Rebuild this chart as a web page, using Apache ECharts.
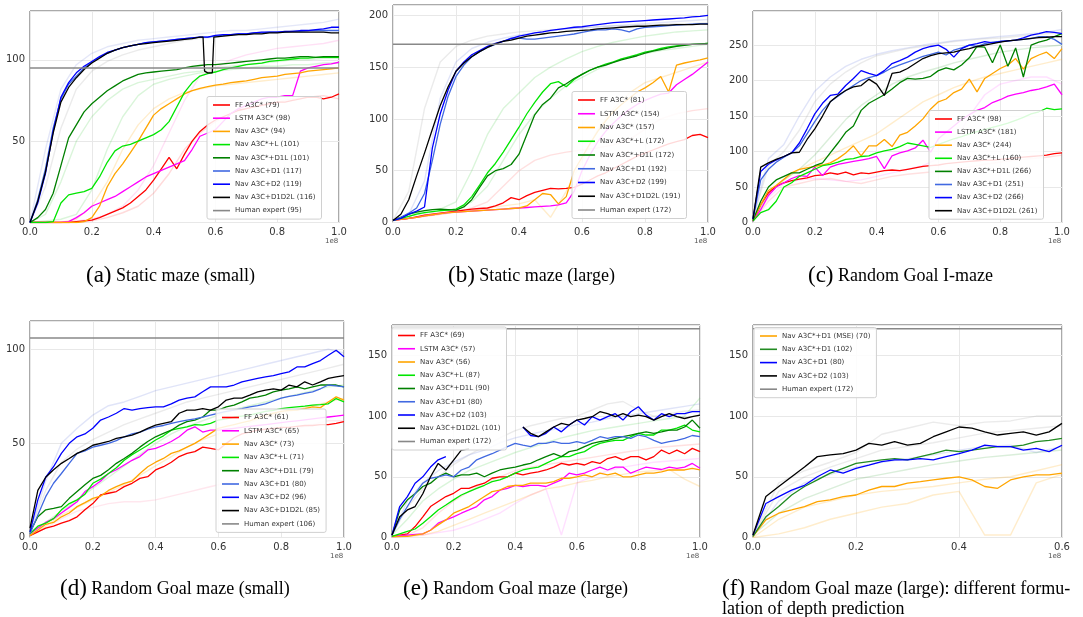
<!DOCTYPE html>
<html>
<head>
<meta charset="utf-8">
<title>Learning curves</title>
<script src="https://cdn.jsdelivr.net/npm/echarts@6/dist/echarts.min.js"></script>
<style>
  html, body { margin: 0; padding: 0; background: #fff; }
  .panel { position: absolute; left: 0; top: 0; width: 1083px; height: 617px; }
</style>
</head>
<body>
<div id="pa" class="panel"></div>
<div id="pb" class="panel"></div>
<div id="pc" class="panel"></div>
<div id="pd" class="panel"></div>
<div id="pe" class="panel"></div>
<div id="pf" class="panel"></div>
<script>
// x positions (steps, in units of 1e8)
const xs = [0,0.025,0.05,0.075,0.1,0.125,0.15,0.175,0.2,0.225,0.25,0.275,0.3,0.325,0.35,0.375,0.4,0.425,0.45,0.475,0.5,0.525,0.55,0.575,0.6,0.625,0.65,0.675,0.7,0.725,0.75,0.775,0.8,0.825,0.85,0.875,0.9,0.925,0.95,0.975,1];
const xsF = [0,0.025,0.05,0.075,0.1,0.125,0.15,0.175,0.2,0.225,0.25,0.275,0.3,0.325,0.35,0.375,0.4,0.425,0.45,0.475,0.5,0.525,0.55,0.575,0.6];
const xsBlackA = [0,0.025,0.05,0.075,0.1,0.125,0.15,0.175,0.2,0.225,0.25,0.275,0.3,0.325,0.35,0.375,0.4,0.425,0.45,0.475,0.5,0.525,0.55,0.56,0.565,0.575,0.59,0.595,0.6,0.625,0.65,0.675,0.7,0.725,0.75,0.775,0.8,0.825,0.85,0.875,0.9,0.925,0.95,0.975,1];
const xsRun = [0,0.05,0.1,0.15,0.2,0.25,0.3,0.35,0.4,0.45,0.5,0.55,0.6,0.65,0.7,0.75,0.8,0.85,0.9,0.95,1];
const xsRunF = [0,0.05,0.1,0.15,0.2,0.25,0.3,0.35,0.4,0.45,0.5,0.55,0.6];

// (a) Static maze (small)
const aLabels = ['FF A3C* (79)','LSTM A3C* (98)','Nav A3C* (94)','Nav A3C*+L (101)','Nav A3C*+D1L (101)','Nav A3C+D1 (117)','Nav A3C+D2 (119)','Nav A3C+D1D2L (116)'];
const aFF = [0,0,0,0,0,0,0.5,1,1.5,3,5,7,9,12,16,20,26,33,40,33,42,50,56,60,63,65,67,69,70,71,72,73,74,74,75,76,77,77,76,77,79];
const aLSTM = [0,0,0,0,0,0.5,3,6,10,12,14,16,19,22,25,28,30,32,34,36,38,45,53,55,57,62,67,70,72,74,76,77,77,78,78,93,95,96,97,97.5,98.5];
const aNav = [0,0,0,0,0,0,0,0.5,3,10,22,30,36,43,50,58,66,70,73,76,79,81,82.5,83.5,84.5,85,86,86.5,87,88,89,89.5,90,91,91.5,92,93,93.5,94,94.5,95];
const aNavL = [0,0,0,0.5,12,17,18,19,21,28,37,44,47,48,50,52,54,57,62,71,80,86,90,91.5,92.5,94,95,96,97,97.5,98,99,99.5,100,100.5,101,101,101.5,101.5,101.5,101.5];
const aNavD1L = [0,3,8,18,35,52,60,68,73,77,81,84,87,89,91,92,92.5,93,93.5,94,95,96,96.5,97,97,97.5,98,98.5,99,99.5,100,100.5,101,101,101.5,102,102,101.5,102,102,102];
const aD1 = [0,14,33,58,76,85,90,95,98.5,101.5,104,106,107.5,108.5,109.5,110.5,111,111.5,112,112.5,113,113.5,114,114,114.5,115,115.5,116,116,116.5,116.5,117,117,117,117.5,117.5,118,118,118,118,118];
const aD2 = [0,12,30,56,77,86,92,96,99,102,104.5,106,107.5,108.5,109.5,110.5,111,111.5,112,112.5,113,113.5,114,114,115,115.5,115.5,116,116,116.5,117,117,117,117.5,117.5,118,118,118.5,119,120,120];
const aD1D2L = [0,13,31,55,74,83,89,94,98,101,104,106,107.5,108.5,109.5,110,110.5,111,111.5,112,112.5,113,114,114,93,92,92,114,114,114.5,115,115.5,115.5,116,116,116.5,116.5,117,117,117,117,117,117,116.5,116.5];
const aHuman = 95;
const aRuns = [
  [0,45,82,97,104,108,110,112,113,114,115,116,117,118,118,119,120,121,122,123,125],
  [0,22,58,82,93,99,103,106,108,110,112,113,114,115,116,117,117,118,118,119,120],
  [0,5,25,50,65,75,82,86,88,90,92,93,95,96,97,98,99,100,100,101,101],
  [0,1,2,5,20,45,65,78,85,88,90,92,93,94,95,96,96,97,97,98,98],
  [0,0,0,1,2,5,10,20,35,55,75,90,95,100,103,105,107,108,109,110,112],
  [0,0,0,2,10,25,45,60,70,76,80,82,84,85,86,87,88,89,90,91,92],
  [0,0,0,0,1,3,6,10,18,30,45,55,62,67,70,72,74,76,77,78,76]
];
const aRunColors = ['#7788dd','#999999','#44cc44','#44cc44','#ff66cc','#ffa500','#ff4444'];

// (b) Static maze (large)
const bLabels = ['FF A3C* (81)','LSTM A3C* (154)','Nav A3C* (157)','Nav A3C*+L (172)','Nav A3C*+D1L (172)','Nav A3C+D1 (192)','Nav A3C+D2 (199)','Nav A3C+D1D2L (191)'];
const bFF = [2,3,4,5.5,7,8,9,10,11,12,13,13.5,14,16,19,24,22,26,29,31,33,32.5,33,34,37,41,45,48,52,56,60,64,67,70,73,76,78,80,84,85,82];
const bLSTM = [2,3,4,5,6.5,7.5,8.5,9.5,10,10.5,11,11.5,12,12.5,13,13.5,14,14.5,15,15.5,16,17,19,30,50,65,78,88,96,103,109,114,118,121,124,125,133,138,143,149,155];
const bNav = [2,3,4,5,6.5,7.5,8.5,9.5,10,10.5,11,11.5,12,12.5,13,13.5,14,16,22,28,27,18,25,50,63,76,88,98,107,114,120,126,130,135,141,126,152,154,155.5,157,159];
const bNavL = [2,4,6,8,9.5,10.5,11.5,12,13,17,25,36,48,57,68,80,92,105,116,126,134,136,131,138,143,147,150,153,155,158,160,162,164.5,166,168,169.5,170.5,171.5,172,172.5,173];
const bNavD1L = [2,5,8,10,11.5,12.5,13,12.5,12,15,22,34,45,50,52,56,66,85,104,114,120,130,134,139,143,147,150,152,154.5,157,159,161,163.5,165.5,167,168.5,170,171,172,172.5,173];
const bD1 = [2,5,9,14,28,60,95,122,141,152,160,165,169,172,175,178,178,177,177,178,179,180,181,182,183.5,185,186,186,187,186,184,187,188.5,189,189.5,190,190.5,191,191.5,192,192];
const bD2 = [2,4,8,11,15,72,105,128,146,155,162,166,170,173,175,177.5,180,181.5,183,184,185.5,186.5,187.5,188.5,189,190,191,192,193,193.5,194,194.5,195,195.5,196,196.5,197,197.5,198.5,199,200];
const bD1D2L = [2,8,22,45,67,90,113,131,146,154,160,165,169,172.5,175,176,178,180,181,182,183,183.5,184.5,185,185.5,186,187,187.5,188,188.5,189,189.5,189.5,190,190.5,190.5,191,191,191,191.5,191.5];
const bHuman = 172;
const bRuns = [
  [2,30,110,155,170,176,180,182,184,185,186,187,188,189,190,190,191,191,192,192,193],
  [2,8,40,120,155,168,174,178,181,183,185,187,188,189,190,191,192,193,194,195,196],
  [2,8,11,13,20,50,85,110,125,140,150,158,165,170,174,177,180,182,184,185,186],
  [2,6,9,11,13,20,35,60,85,105,120,132,140,148,155,160,163,166,168,170,172],
  [2,4,6,8,10,14,20,35,50,60,65,68,70,72,75,80,90,100,105,108,110],
  [2,4,6,8,10,12,14,16,18,22,5,30,60,90,110,125,135,140,145,150,155]
];
const bRunColors = ['#999999','#6677dd','#44cc44','#44cc44','#ff6666','#ffa500'];

// (c) Random Goal I-maze
const cLabels = ['FF A3C* (98)','LSTM A3C* (181)','Nav A3C* (244)','Nav A3C*+L (160)','Nav A3C*+D1L (266)','Nav A3C+D1 (251)','Nav A3C+D2 (266)','Nav A3C+D1D2L (261)'];
const cFF = [2,25,42,51,56,59,61,63,66,67,70,68,71,67,70,69,71,73,74,73,75,77,79,80,81,83,84,85,86,87,88,88,89,90,91,92,93,94,95,97,98];
const cLSTM = [2,18,38,50,56,62,66,65,78,66,78,82,84,86,88,90,93,76,94,98,101,105,116,99,118,127,136,145,152,158,162,169,173,178,181,183,186,188,191,195,180];
const cNav = [3,25,45,52,61,70,75,77,79,81,84,90,98,108,94,108,108,117,107,123,127,136,146,160,170,174,183,188,202,184,203,210,217,222,231,216,231,236,240,231,245];
const cNavL = [2,14,18,30,50,56,65,70,75,80,82,85,89,90,93,94,98,101,103,107,112,110,108,106,110,114,118,121,125,128,131,134,137,140,144,148,153,156,161,159,160];
const cNavD1L = [3,30,50,60,65,70,70,75,80,84,98,112,127,136,158,168,174,180,188,197,203,202,203,206,214,218,215,222,232,248,247,225,250,220,246,205,250,254,257,262,266];
const cD1 = [5,60,75,85,92,98,108,125,142,158,170,178,186,193,200,204,207,212,218,222,226,230,234,237,240,236,243,246,250,248,252,254,255,256,257,258,259,262,262,258,251];
const cD2 = [5,72,82,88,93,98,112,132,153,168,179,181,193,203,214,210,207,214,224,228,233,240,245,248,250,244,233,245,250,252,255,253,255,256,257,260,264,266,269,268,266];
const cD1D2L = [5,78,84,89,93,98,99,117,132,150,170,179,186,191,193,202,195,179,210,212,217,224,231,235,238,239,240,243,245,248,250,252,254,256,257,258,259.5,260.5,261,262,262];
const cRuns = [
  [5,90,110,150,185,205,220,230,237,242,246,250,253,256,258,260,262,264,266,268,272],
  [5,80,100,130,170,195,212,225,235,240,245,248,252,255,257,259,260,262,264,266,268],
  [3,40,60,75,95,120,145,165,180,195,205,212,218,225,230,235,240,243,246,248,250],
  [3,40,60,75,85,95,105,115,125,140,155,170,180,190,198,205,210,215,220,225,230],
  [2,35,55,60,62,60,58,60,65,70,75,80,90,110,150,180,195,200,205,205,195],
  [2,30,50,55,60,62,58,55,60,65,68,70,72,75,78,82,85,88,90,92,95]
];
const cRunColors = ['#6677dd','#999999','#44aa44','#ffa500','#ff66ff','#ff6666'];

// (d) Random Goal maze (small)
const dLabels = ['FF A3C* (61)','LSTM A3C* (65)','Nav A3C* (73)','Nav A3C*+L (71)','Nav A3C*+D1L (79)','Nav A3C+D1 (80)','Nav A3C+D2 (96)','Nav A3C+D1D2L (85)'];
const dFF = [1,3,5,6,7.6,9,11,14.7,18,22.6,23.5,24.4,27,28.8,31.4,32.3,35.9,37.6,40,43,44.7,45.6,48,47.3,46.5,50,53,55,56,57,57.5,58,58.5,58.5,59,59.5,59.5,60,60,60.6,61.5];
const dLSTM = [2,5,8,10,13,16,19,24.4,27,30,34,36,38.5,41,43,46.5,47.3,49,51,53.5,57,58.8,56,57,57,57.5,58,58.5,59,59.5,60,60.5,61,61.5,62,62.5,63,63.5,64,64.5,65];
const dNav = [1,4,7,8,11,13,16.4,18.5,20.8,22,25,27,28.8,30,34,37.6,40,42,44.7,46,48,50,52.6,55.3,58,59,60,61,62,63.5,65,66,67,67.5,67.7,68.5,69.4,69,72,74.7,73];
const dNavL = [2,6,7.6,10,14.7,18,20,23,28.8,31,34,37,41,44,46.5,49,51.8,54,57,58,58.8,60,59.7,60.6,62.4,63,64,64.5,65,66,67,67.5,68.5,69,69.4,69.8,70.3,70.6,71,73.8,72];
const dNavD1L = [3,11,14.7,15.5,16.4,20.8,24.4,28,31.4,33,36,39.4,42,44.7,48,51,53.5,55.3,57,59.7,61.5,62.4,64,67.7,67.7,69.4,70.3,72,74,74.7,75.6,77.4,78.3,79,80,79,80,81,81,81,80];
const dD1 = [2,12,21.7,28.8,34,39.4,44.7,46,48,49,50,51.5,53.5,55,56,57.5,58.8,59.5,60.6,61.5,62.4,63,64,65,66,67,67.7,68.5,69.4,70,71,72.5,74,75,75.6,76.5,77.4,79,81,80.5,80];
const dD2 = [3,20,32,37.6,44.7,50,53.5,55,58,62.4,64,66,68.5,67.7,68.5,69,69.4,69.4,71,73,74,74.7,77.4,80,80,80,81,82.7,83.6,84.5,85.3,86,87,88,90.6,90.6,92.4,94,96.8,99.5,96];
const dD1D2L = [5,25,32,36,39.4,42,44.7,46.5,49,50,51,52.6,53.5,54.4,56,58,59.7,60.6,61.5,66,67.7,67.7,68.5,67.7,69.4,73,74,74,75.6,77.4,78.3,79,78.3,81,80,82.7,81,82.7,84.5,85.3,86];
const dHuman = 106;
const dRuns = [
  [3,30,50,58,65,70,72,75,78,80,82,84,86,88,90,92,94,96,98,100,98],
  [4,25,40,47,52,56,60,63,66,69,72,74,76,78,80,82,84,86,88,90,92],
  [1,5,10,14,16,18,19,19,20,22,24,26,28,30,40,50,55,58,60,62,62],
  [2,8,14,20,26,32,38,44,50,55,59,62,65,68,70,72,74,76,78,80,81],
  [1,6,12,16,20,24,28,33,38,43,48,52,55,58,61,64,66,68,70,72,74]
];
const dRunColors = ['#6677dd','#999999','#ff88aa','#44cc44','#ffa500'];

// (e) Random Goal maze (large)
const eLabels = ['FF A3C* (69)','LSTM A3C* (57)','Nav A3C* (56)','Nav A3C*+L (87)','Nav A3C*+D1L (90)','Nav A3C+D1 (80)','Nav A3C+D2 (103)','Nav A3C+D1D2L (101)'];
const eFF = [1,2,3,9,17,25.5,29.6,33.7,36.4,40.5,40.5,43,44.7,48.8,50,50,53,51.5,53,54,55.6,58,61,59.7,61,59.7,62.5,61,65,66.6,64,66.6,66.6,64,66.6,72,69,72,69,73.4,70.7];
const eLSTM = [1,1.5,2,2.5,3,6,11.8,14.5,17,20,22.7,25.5,31,33.7,39,40.5,43,42,43,43,42,44.7,47.4,53,51.5,53,55.6,58,55.6,58,58,53,55.6,58,57,56,58,57,58,61,57];
const eNav = [1,1,1,2,3,6,10.4,14.5,20,22.7,25.5,29.6,33.7,37.8,39,42,43,43,44.7,44.7,44.7,46,48.8,48.8,50,51.5,50,53,51.5,53,50,50,51.5,53,53,54,55.6,55.6,55.6,57,55.6];
const eNavL = [1,3,5,7,11.8,17,22.7,26.8,31,35,37.8,40.5,43,46,47.4,50,53,55.6,57,58,61,64,66.6,66.6,69,70.7,74.8,77.5,79,80,80,83,85.8,84.4,84.4,88.5,88.5,90,92.6,88.5,87];
const eNavD1L = [2,22.7,31,36,42,44.7,50,53,50,51.5,51.5,53,50,53,55.6,57,58,59.7,61,64,66.6,69,66.6,70.7,72,74.8,77.5,79,80,81.6,83,84.4,85.8,87,85.8,87,88.5,88.5,91,96.7,90];
const eD1 = [2,15,25.5,36,44.7,48.8,50,51.5,50,55.6,58,64,66.6,69,72,74.8,77.5,76,74.8,77.5,77.5,79,77.5,77.5,79,77.5,80,83,81.6,83,83,81.6,84.4,83,80,77.5,79,80,81.6,84,83];
const eD2 = [2,25.5,33.7,44.7,50,58,64,66.6,null,null,null,null,null,null,null,null,null,91,84,83,85.8,91,87,92.6,96.7,92.6,99.5,96.7,99.5,102,96.7,103.6,107.7,100.8,96.7,102,99.5,102,102,103.6,103.6];
const eD1D2L = [2,17,22.7,25.5,36,50,61,55.6,63.8,72,73,null,null,null,null,null,null,91,85.8,83,87,91,94,92.6,96.7,98,99.5,103.6,102,99.5,102,99.5,100.8,99.5,96.7,99.5,102,99.5,98,99.5,100.8];
const eHuman = 172;
const eRuns = [
  [2,25,40,50,60,68,75,82,88,92,95,98,100,105,110,112,105,100,102,104,105],
  [2,30,45,55,62,68,72,78,82,85,88,90,93,95,98,100,102,104,106,108,110],
  [2,15,30,40,48,55,60,65,70,74,78,82,85,88,90,92,94,96,98,100,115],
  [0,1,2,4,6,10,15,20,28,35,40,2,45,50,55,58,60,62,63,64,65],
  [0,1,2,5,10,15,20,25,30,35,40,42,45,47,50,52,54,55,56,48,42],
  [0,2,8,20,30,38,45,50,55,58,60,62,64,66,68,70,72,74,75,76,77]
];
const eRunColors = ['#999999','#6677dd','#44cc44','#ff66ff','#ffa500','#ff6666'];

// (f) Random Goal maze (large): depth prediction variants
const fLabels = ['Nav A3C*+D1 (MSE) (70)','Nav A3C*+D1 (102)','Nav A3C+D1 (80)','Nav A3C+D2 (103)'];
const fMSE = [1,14.5,20,22.7,25.5,29.6,31,33.7,35,39,42,42,44.7,46,47.4,48.8,50,47.4,42,40.5,47.4,50,51.5,51.5,53];
const fD1Star = [1,17,25.5,35,42,47.4,53,57,61,62.5,64,65,64,66.6,69,72,70.7,72,73.4,74.8,74.8,76,79,80,81.6];
const fD1 = [2,28,33.7,39,43,50,55.6,53,57,59.7,62.5,64,64,65,64,66.6,69,72,76,74.8,74.8,72,73.4,70.7,76];
const fD2 = [2,33.7,42,50,58,66.6,68,69,72,77.5,76,79,76,77.5,83,87,91,90,87,84.4,85.8,87,84.4,87,94];
const fHuman = 172;
const fRuns = [
  [2,45,55,62,70,85,90,95,92,95,96,100,100],
  [2,38,50,58,65,72,75,78,82,86,88,90,92],
  [2,30,45,52,58,62,65,68,72,75,76,70,75],
  [0,3,8,15,20,25,28,35,38,2,2,45,52],
  [0,15,25,30,35,38,40,42,45,48,50,55,60],
  [2,20,32,40,48,52,56,60,63,66,68,70,72]
];
const fRunColors = ['#999999','#999999','#6677dd','#ffa500','#ffa500','#44aa44'];

const COLORS = ['#ff0000','#ff00ff','#ffa500','#00e600','#008000','#4169e1','#0000ff','#000000'];
const HUMAN_COLOR = '#888888';

function pairs(x, y) {
  return x.map((v, i) => [v, y[i]]);
}

function drawPanel(id, cfg) {
  const chart = echarts.init(document.getElementById(id));
  const series = [];
  cfg.runs.forEach((r, i) => {
    series.push({
      name: '_run' + i, type: 'line', data: pairs(cfg.runX, r),
      symbol: 'none', silent: true, z: 1,
      lineStyle: { color: cfg.runColors[i], width: 1.4, opacity: 0.2 }
    });
  });
  cfg.lines.forEach((l) => {
    series.push({
      name: l.name, type: 'line', data: pairs(l.x, l.y),
      symbol: 'none', z: 2, connectNulls: false,
      lineStyle: { color: l.color, width: 1.3 }, itemStyle: { color: l.color }
    });
  });
  const names = cfg.lines.map(l => l.name);
  if (cfg.human != null) {
    const hn = 'Human expert (' + cfg.human + ')';
    names.push(hn);
    series.push({
      name: hn, type: 'line', data: [[0, cfg.human], [cfg.xMax, cfg.human]],
      symbol: 'none', z: 3,
      lineStyle: { color: HUMAN_COLOR, width: 1.5 }, itemStyle: { color: HUMAN_COLOR }
    });
  }
  const g = cfg.grid;
  chart.setOption({
    animation: false,
    title: {
      left: cfg.caption.left, top: cfg.caption.top, padding: 0,
      text: cfg.caption.text,
      textStyle: {
        fontFamily: 'Liberation Serif', fontSize: 18, fontWeight: 'normal', color: '#000', lineHeight: 20,
        rich: {
          p: { fontFamily: 'Liberation Serif', fontSize: 23, color: '#000', lineHeight: 20 },
          t: { fontFamily: 'Liberation Serif', fontSize: 18, color: '#000', lineHeight: 20 }
        }
      }
    },
    grid: { left: g.left, top: g.top, width: g.width, height: g.height, show: true, borderColor: '#555', borderWidth: 1 },
    xAxis: {
      type: 'value', min: 0, max: cfg.xMax, interval: 0.2,
      axisLine: { show: false }, axisTick: { show: false },
      splitLine: { lineStyle: { color: '#e8e8e8' } },
      axisLabel: { formatter: v => v.toFixed(1), color: '#333', fontSize: 10, fontFamily: 'DejaVu Sans', margin: 5 }
    },
    yAxis: {
      type: 'value', min: 0, max: cfg.yMax, interval: 50,
      axisLine: { show: false }, axisTick: { show: false },
      splitLine: { lineStyle: { color: '#e8e8e8' } },
      axisLabel: { formatter: v => (v % 50 === 0 ? String(v) : ''), color: '#333', fontSize: 10, fontFamily: 'DejaVu Sans', margin: 5 }
    },
    legend: {
      orient: 'vertical', left: cfg.legend.left, top: cfg.legend.top,
      icon: 'rect', itemWidth: 17, itemHeight: 1.6, itemGap: cfg.legend.gap,
      padding: [4, 6, 4, 6],
      backgroundColor: 'rgba(255,255,255,0.85)', borderColor: '#d0d0d0', borderWidth: 1, borderRadius: 2,
      data: names,
      textStyle: { fontSize: 7, color: '#333', fontFamily: 'DejaVu Sans', lineHeight: 9, height: 9 }
    },
    graphic: [{
      type: 'text', x: g.left + g.width - 14, y: g.top + g.height + 15,
      style: { text: '1e8', fontSize: 7, fontFamily: 'DejaVu Sans', fill: '#555' }
    }],
    series: series
  });
}

function mainLines(labels, arrays, xArrays) {
  return labels.map((name, i) => ({ name: name, x: xArrays[i] || xs, y: arrays[i], color: COLORS[i] }));
}

drawPanel('pa', {
  grid: { left: 30, top: 11, width: 309, height: 211.5 }, xMax: 1, yMax: 130,
  lines: mainLines(aLabels, [aFF, aLSTM, aNav, aNavL, aNavD1L, aD1, aD2, aD1D2L], [null, null, null, null, null, null, null, xsBlackA]),
  human: aHuman, runs: aRuns, runX: xsRun, runColors: aRunColors,
  legend: { left: 207, top: 96.5, gap: 4.2 },
  caption: { left: 86, top: 266, text: '{p|(a)} {t|Static maze (small)}' }
});
drawPanel('pb', {
  grid: { left: 393, top: 5, width: 315, height: 217.5 }, xMax: 1, yMax: 210,
  lines: mainLines(bLabels, [bFF, bLSTM, bNav, bNavL, bNavD1L, bD1, bD2, bD1D2L], []),
  human: bHuman, runs: bRuns, runX: xsRun, runColors: bRunColors,
  legend: { left: 572, top: 91.5, gap: 4.75 },
  caption: { left: 448, top: 266, text: '{p|(b)} {t|Static maze (large)}' }
});
drawPanel('pc', {
  grid: { left: 753, top: 11, width: 309, height: 211.5 }, xMax: 1, yMax: 298,
  lines: mainLines(cLabels, [cFF, cLSTM, cNav, cNavL, cNavD1L, cD1, cD2, cD1D2L], []),
  human: null, runs: cRuns, runX: xsRun, runColors: cRunColors,
  legend: { left: 929, top: 110.5, gap: 4.1 },
  caption: { left: 808, top: 266, text: '{p|(c)} {t|Random Goal I-maze}' }
});
drawPanel('pd', {
  grid: { left: 30, top: 321, width: 314, height: 216.5 }, xMax: 1, yMax: 115,
  lines: mainLines(dLabels, [dFF, dLSTM, dNav, dNavL, dNavD1L, dD1, dD2, dD1D2L], []),
  human: dHuman, runs: dRuns, runX: xsRun, runColors: dRunColors,
  legend: { left: 216, top: 409, gap: 4.3 },
  caption: { left: 60, top: 579, text: '{p|(d)} {t|Random Goal maze (small)}' }
});
drawPanel('pe', {
  grid: { left: 392, top: 325, width: 308, height: 212.5 }, xMax: 1, yMax: 175,
  lines: mainLines(eLabels, [eFF, eLSTM, eNav, eNavL, eNavD1L, eD1, eD2, eD1D2L], []),
  human: eHuman, runs: eRuns, runX: xsRun, runColors: eRunColors,
  legend: { left: 392, top: 327, gap: 4.25 },
  caption: { left: 403, top: 579, text: '{p|(e)} {t|Random Goal maze (large)}' }
});
drawPanel('pf', {
  grid: { left: 753, top: 325, width: 309, height: 212.5 }, xMax: 0.6, yMax: 175,
  lines: [
    { name: fLabels[0], x: xsF, y: fMSE, color: '#ffa500' },
    { name: fLabels[1], x: xsF, y: fD1Star, color: '#228b22' },
    { name: fLabels[2], x: xsF, y: fD1, color: '#0000ff' },
    { name: fLabels[3], x: xsF, y: fD2, color: '#000000' }
  ],
  human: fHuman, runs: fRuns, runX: xsRunF, runColors: fRunColors,
  legend: { left: 754, top: 327.5, gap: 4.3 },
  caption: { left: 722, top: 579, text: '{p|(f)} {t|Random Goal maze (large): different formu-}\n{t|lation of depth prediction}' }
});
</script>
</body>
</html>
